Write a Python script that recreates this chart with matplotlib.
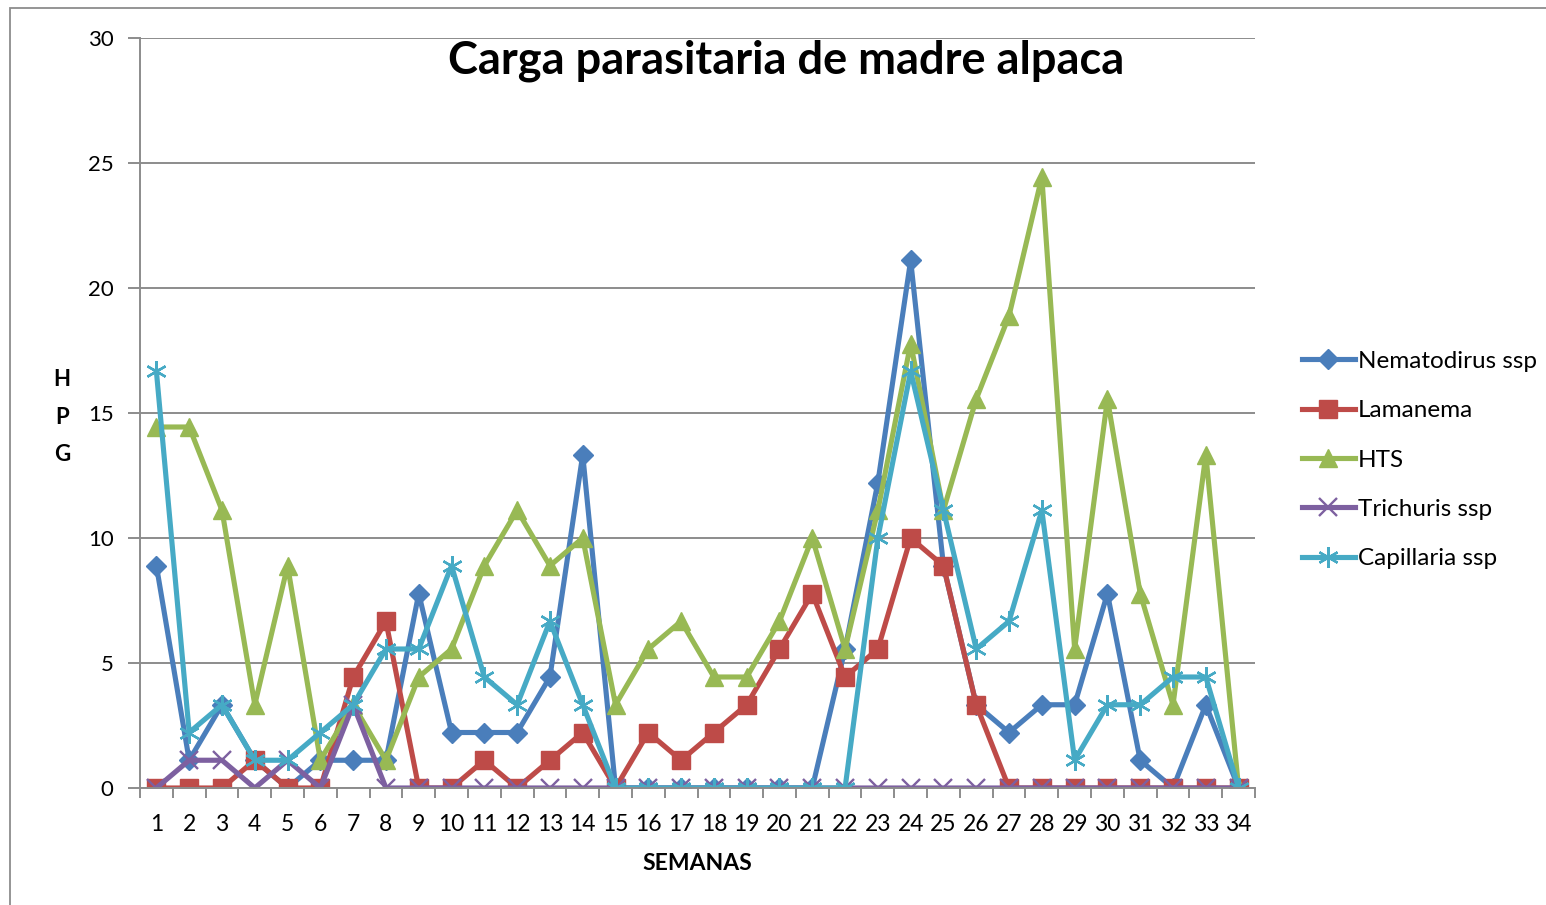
import matplotlib
matplotlib.use("Agg")
import matplotlib.pyplot as plt
from matplotlib.patches import Rectangle
from matplotlib.ticker import FixedLocator, NullFormatter

plt.rcParams['font.family'] = ['Lato', 'DejaVu Sans']

semanas = list(range(1, 35))
tick_labels = [str(s) for s in semanas]

nematodirus = [8.89, 1.11, 3.33, 1.11, 0, 1.11, 1.11, 1.11, 7.78, 2.22, 2.22, 2.22, 4.44, 13.33,
               0, 0, 0, 0, 0, 0, 0, 5.56, 12.22, 21.11, 8.89, 3.33, 2.22, 3.33, 3.33, 7.78,
               1.11, 0, 3.33, 0]
lamanema = [0, 0, 0, 1.11, 0, 0, 4.44, 6.67, 0, 0, 1.11, 0, 1.11, 2.22,
            0, 2.22, 1.11, 2.22, 3.33, 5.56, 7.78, 4.44, 5.56, 10.0, 8.89, 3.33, 0, 0, 0, 0,
            0, 0, 0, 0]
hts = [14.44, 14.44, 11.11, 3.33, 8.89, 1.11, 3.33, 1.11, 4.44, 5.56, 8.89, 11.11, 8.89, 10.0,
       3.33, 5.56, 6.67, 4.44, 4.44, 6.67, 10.0, 5.56, 11.11, 17.78, 11.11, 15.56, 18.89, 24.44,
       5.56, 15.56, 7.78, 3.33, 13.33, 0]
trichuris = [0, 1.11, 1.11, 0, 1.11, 0, 3.33, 0, 0, 0, 0, 0, 0, 0,
             0, 0, 0, 0, 0, 0, 0, 0, 0, 0, 0, 0, 0, 0, 0, 0, 0, 0, 0, 0]
capillaria = [16.67, 2.22, 3.33, 1.11, 1.11, 2.22, 3.33, 5.56, 5.56, 8.89, 4.44, 3.33, 6.67, 3.33,
              0, 0, 0, 0, 0, 0, 0, 0, 10.0, 16.67, 11.11, 5.56, 6.67, 11.11, 1.11, 3.33,
              3.33, 4.44, 4.44, 0]

series = [
    ("Nematodirus ssp", nematodirus, "#4A7EBB", dict(marker="D", markersize=10.5)),
    ("Lamanema", lamanema, "#BE4B48", dict(marker="s", markersize=12.5)),
    ("HTS", hts, "#98B954", dict(marker="^", markersize=13.5)),
    ("Trichuris ssp", trichuris, "#7D60A0", dict(marker="x", markersize=13, markeredgewidth=1.7)),
    ("Capillaria ssp", capillaria, "#46AAC5", dict(marker=(6, 2, 0), markersize=15, markeredgewidth=1.7)),
]

fig = plt.figure(figsize=(15.46, 9.05), dpi=100)
# outer chart border
fig.patches.append(Rectangle((10 / 1546, -0.01), 1.1, 1 - 8 / 905 + 0.01, transform=fig.transFigure,
                             fill=False, edgecolor="#8C8C8C", linewidth=1.3))

ax = fig.add_axes([140 / 1546, 1 - 788 / 905, (1255 - 140) / 1546, (788 - 38) / 905])

for name, vals, col, mk in series:
    ax.plot(semanas, vals, color=col, linewidth=3.7, label=name,
            markerfacecolor=col, markeredgecolor=col, solid_joinstyle="round", **mk)

ax.set_xlim(0.5, 34.5)
ax.set_ylim(0, 30)
ax.set_yticks([0, 5, 10, 15, 20, 25, 30])
ax.yaxis.grid(True, color="#8C8C8C", linewidth=1.4)
ax.set_axisbelow(True)
for s in ["top", "right"]:
    ax.spines[s].set_visible(False)
for s in ["left", "bottom"]:
    ax.spines[s].set_color("#8C8C8C")
    ax.spines[s].set_linewidth(1.4)

ax.set_xticks(semanas)
ax.set_xticklabels(tick_labels)
ax.xaxis.set_minor_locator(FixedLocator([i + 0.5 for i in range(0, 35)]))
ax.xaxis.set_minor_formatter(NullFormatter())
ax.tick_params(axis="x", which="major", length=0, pad=19, labelsize=16.5)
ax.tick_params(axis="x", which="minor", length=7, width=1.4, color="#8C8C8C")
ax.tick_params(axis="y", which="major", length=9, width=1.4, color="#8C8C8C", labelsize=16, pad=10)

ax.set_xlabel("SEMANAS", fontsize=16.5, fontweight="bold", labelpad=13)

fig.text(62 / 1546, 1 - 417 / 905, "H\nP\nG", ha="center", va="center", fontsize=16,
         fontweight="bold", linespacing=1.95)

fig.text(786 / 1546, 1 - 61 / 905, "Carga parasitaria de madre alpaca", ha="center", va="center",
         fontsize=32.5, fontweight="bold")

leg = ax.legend(loc="center left", bbox_to_anchor=(1292 / 1546, 1 - 460 / 905),
                bbox_transform=fig.transFigure, frameon=False, fontsize=17.5,
                handlelength=2.2, handletextpad=0.1, labelspacing=1.17, borderaxespad=0)

fig.savefig("out.png", dpi=100)
